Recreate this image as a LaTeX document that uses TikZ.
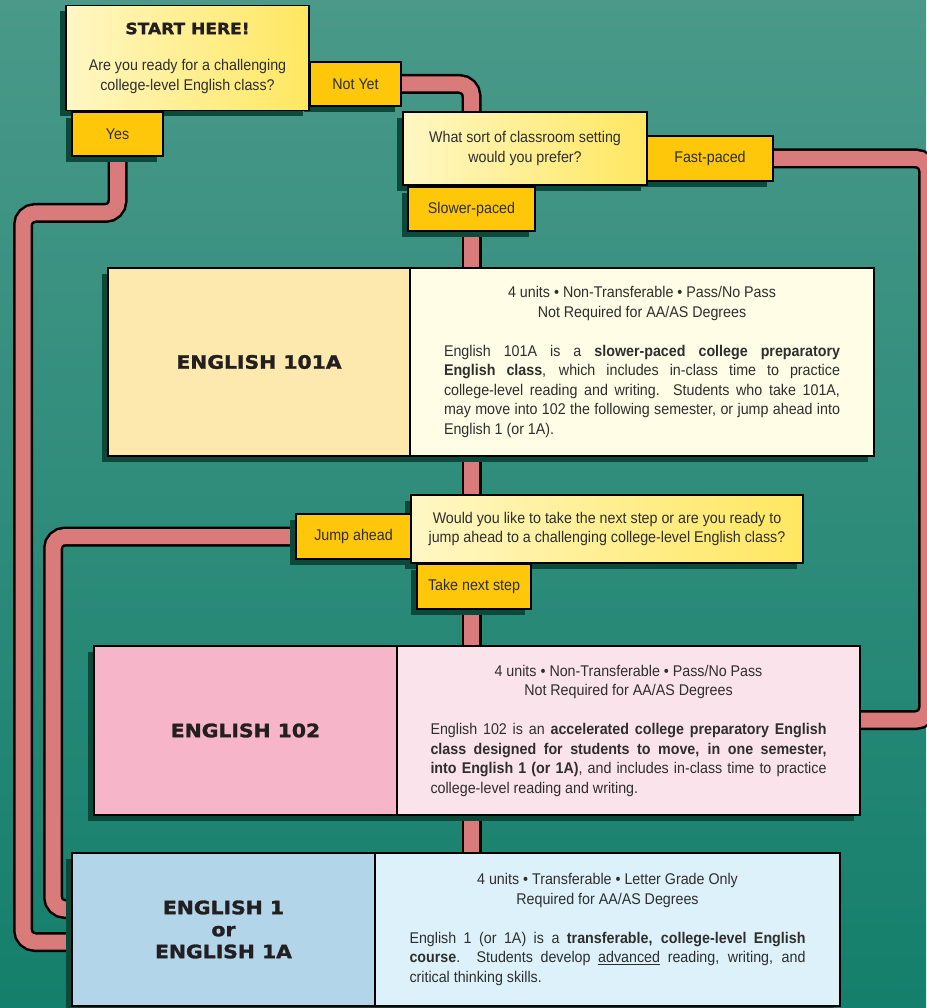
\documentclass[tikz,border=0pt]{standalone}
\usepackage{fontspec}
\setmainfont{Liberation Sans}[FakeStretch=0.92]
\newfontfamily\headfont{DejaVu Sans}[FakeStretch=1.1, BoldFeatures={FakeBold=1.6}]
\usetikzlibrary{shadows}
\pgfdeclarelayer{bg}
\pgfdeclarelayer{pipes}
\pgfsetlayers{bg,pipes,main}
\definecolor{bgtop}{HTML}{4A9989}
\definecolor{bgbot}{HTML}{147F6C}
\definecolor{gold}{HTML}{FFC709}
\definecolor{qa}{HTML}{FFF7C4}
\definecolor{qb}{HTML}{FFE760}
\definecolor{cAL}{HTML}{FDE9AE}
\definecolor{cAR}{HTML}{FFFDE6}
\definecolor{cBL}{HTML}{F7B5C9}
\definecolor{cBR}{HTML}{FBE3EC}
\definecolor{cCL}{HTML}{B3D5EA}
\definecolor{cCR}{HTML}{DCF1F9}
\definecolor{pipec}{HTML}{D97B7A}
\definecolor{shadowc}{HTML}{0B4A3A}
\definecolor{txt}{HTML}{2E2E2E}
\definecolor{head}{HTML}{231F20}
\newcommand\bodyfont{\fontsize{15.5}{19.5}\selectfont}
\tikzset{
  box/.style={draw=black, line width=1.6pt, inner sep=0pt, text=txt, font=\bodyfont,
    drop shadow={shadow xshift=-6pt, shadow yshift=-6pt, fill=shadowc, opacity=1}},
  tab/.style={box, fill=gold},
  ques/.style={box, left color=qa, right color=qb, align=center},
  course/.style={box, line width=2.6pt},
  heading/.style={font=\headfont\bfseries\fontsize{18.5}{23}\selectfont, text=head, align=center},
  pipe/.style={draw=black, line width=2.5pt, double=pipec, double distance=15pt, rounded corners=12pt}
}
\begin{document}
\begin{tikzpicture}[x=1pt,y=-1pt]
\useasboundingbox (0,0) rectangle (926,1008);
\begin{pgfonlayer}{bg}
\shade[top color=bgtop, bottom color=bgbot] (0,0) rectangle (926,1008);
\end{pgfonlayer}

% start question
\node[tab, minimum width=91pt, minimum height=44pt] (notyet) at (355.5,84) {Not Yet};
\node[ques, minimum width=243pt, minimum height=105pt] (start) at (187.5,58)
  {{\headfont\bfseries\fontsize{15.5}{19.5}\selectfont\color{head}START HERE!}\\[17pt]
   Are you ready for a challenging\\ college-level English class?};
\node[tab, minimum width=91pt, minimum height=44pt] (yes) at (117.5,134) {Yes};

% second question
\node[tab, minimum width=126pt, minimum height=45pt] (fast) at (710,158.5) {Fast-paced};
\node[ques, minimum width=244pt, minimum height=73pt] (q2) at (525,148.5)
  {What sort of classroom setting\\ would you prefer?};
\node[tab, minimum width=127pt, minimum height=44pt] (slow) at (471.5,209) {Slower-paced};

% English 101A
\node[course, fill=cAR, minimum width=464pt, minimum height=188pt] (e101R) at (642,362)
  {\parbox{396pt}{{\centering 4 units • Non-Transferable • Pass/No Pass\\ Not Required for AA/AS Degrees\par}\vspace{19.5pt}\noindent
  English 101A is a \textbf{slower-paced college preparatory}\linebreak
  \textbf{English class}, which includes in-class time to practice\linebreak
  college-level reading and writing.\ \ Students who take 101A,\linebreak
  may move into 102 the following semester, or jump ahead into\linebreak
  English 1 (or 1A).}};
\node[course, fill=cAL, minimum width=302pt, minimum height=188pt, heading] (e101L) at (259,362)
  {ENGLISH 101A};

% third question
\node[ques, minimum width=392pt, minimum height=68pt] (q3) at (607,529)
  {Would you like to take the next step or are you ready to\\ jump ahead to a challenging college-level English class?};
\node[tab, minimum width=115pt, minimum height=45pt] (jump) at (353.5,536.5) {Jump ahead};
\node[tab, minimum width=114pt, minimum height=45pt] (next) at (474,586.5) {Take next step};

% English 102
\node[course, fill=cBR, minimum width=463pt, minimum height=169pt] (e102R) at (628.5,730.5)
  {\parbox{396pt}{{\centering 4 units • Non-Transferable • Pass/No Pass\\ Not Required for AA/AS Degrees\par}\vspace{19.5pt}\noindent
  English 102 is an \textbf{accelerated college preparatory English}\linebreak
  \textbf{class designed for students to move, in one semester,}\linebreak
  \textbf{into English 1 (or 1A)}, and includes in-class time to practice\linebreak
  college-level reading and writing.}};
\node[course, fill=cBL, minimum width=303pt, minimum height=169pt, heading] (e102L) at (245.5,730.5)
  {ENGLISH 102};

% English 1
\node[course, fill=cCR, minimum width=465pt, minimum height=153pt] (e1R) at (607.5,929.5)
  {\parbox{396pt}{{\centering 4 units • Transferable • Letter Grade Only\\ Required for AA/AS Degrees\par}\vspace{19.5pt}\noindent
  English 1 (or 1A) is a \textbf{transferable, college-level English}\linebreak
  \textbf{course}. Students develop \underline{advanced} reading, writing, and\linebreak
  critical thinking skills.}};
\node[course, fill=cCL, minimum width=303pt, minimum height=153pt, heading] (e1L) at (223.5,929.5)
  {ENGLISH 1\\[-1pt] or\\[-1pt] ENGLISH 1A};

% pipes
\coordinate (ya) at (23,213);
\coordinate (yb) at (90,942);
\coordinate (nb) at (471.5,130);
\coordinate (fr) at (928,720);
\coordinate (ja) at (53,909);
\begin{pgfonlayer}{pipes}
\draw[pipe] (yes.center) |- (ya) |- (yb);
\draw[pipe] (notyet.center) -| (nb);
\draw[pipe] (slow.center) -- (slow.center |- e101R.center);
\draw[pipe] (fast.center) -| (fr) -- (fr -| e102R.center);
\draw[pipe] (slow.center |- e101R.center) -- (slow.center |- q3.center);
\draw[pipe] (jump.center) -| (ja) -- (ja -| e1L.center);
\draw[pipe] (slow.center |- next.center) -- (slow.center |- e102R.center);
\draw[pipe] (slow.center |- e102R.center) -- (slow.center |- e1R.center);
\end{pgfonlayer}
\end{tikzpicture}
\end{document}
